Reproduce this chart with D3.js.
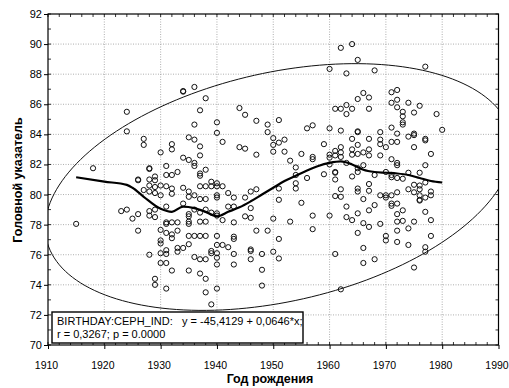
<!DOCTYPE html>
<html><head><meta charset="utf-8">
<script src="https://cdn.jsdelivr.net/npm/d3@7"></script>
<style>
html,body{margin:0;padding:0;background:#fff;}
text{font-family:"Liberation Sans",Arial,sans-serif;fill:#000;}
</style>
</head><body>
<svg id="chart" width="509" height="388"></svg>
<script>
// ---- data ----
const birthYears = [1915,1918,1923,1924,1925,1926,1927,1928,1929,1930,1931,1932,1933,1934,1935,1936,1937,1938,1939,1940,
  1941,1942,1943,1944,1945,1946,1947,1948,1949,1950,1951,1952,1953,1954,1955,1956,1957,1959,1960,
  1961,1962,1963,1964,1965,1966,1967,1968,1969,1970,1971,1972,1973,1974,1975,1976,1977,1978,1979,1980];
const cephIndexByYear = [
  [78.05],
  [81.75],
  [78.9],
  [85.5,84.2,79.0],
  [78.4],
  [81.0,80.95,78.7,77.6],
  [83.7,83.3,80.3],
  [81.75,81.7,81.0,80.6,80.2,78.9,78.6,76.0],
  [81.2,80.95,80.5,80.1,79.0,78.5,74.4,74.0],
  [82.8,80.6,79.95,77.65,76.95,76.75,76.1,75.45],
  [81.9,81.3,80.55,79.2,78.15,78.05,77.45,76.3,76.05,75.45,73.75],
  [83.35,83.0,81.3,80.4,80.05,78.15,77.35,77.1,74.95],
  [81.5,78.15,77.6,76.45,76.2],
  [86.88,86.84,82.45,80.45,79.4,76.45],
  [83.8,82.3,80.2,79.85,78.7,78.55,78.2,78.05,77.25,76.7,74.95],
  [87.15,84.65,83.65,82.1,81.9,79.95,79.0,77.25,75.85],
  [85.6,83.2,82.6,81.4,81.25,80.55,79.7,78.8,78.2,77.25,75.7,74.75],
  [86.4,81.65,80.55,79.7,79.0,78.2,77.25,75.7,74.4,73.5],
  [80.85,80.55,78.8,76.25,76.1,72.7],
  [84.8,84.1,80.75,80.55,79.95,79.8,78.75,78.6,77.25,76.65,76.1,75.8,75.35,73.75],
  [83.5,80.55,78.3,76.65],
  [80.1,79.2,76.5],
  [79.8,79.2,78.15,77.2,77.05,76.05,75.35],
  [85.75,83.15],
  [85.3,83.05,79.8,78.55],
  [80.2,79.1,78.45,76.35,76.25,75.7],
  [84.9,82.65,80.35,77.6],
  [76.05,75.0,73.95],
  [84.65,84.15,77.6],
  [83.75,83.3,82.85,78.4,76.2],
  [84.95,83.45,80.4,79.65,77.05,75.75],
  [83.65,82.85],
  [82.25,78.2],
  [81.8,81.3,80.75,80.4],
  [82.7,79.45],
  [84.4,81.1],
  [84.6,82.5,82.35,78.6,77.7],
  [83.35,81.35],
  [88.35,84.4,82.65,82.45,82.0,78.6],
  [85.7,82.9,82.6,81.5,81.45,81.0,79.9,76.05],
  [89.75,85.7,84.25,83.15,82.8,82.5,80.35,79.85,73.7],
  [88.05,85.95,85.35,82.1,79.2,78.5],
  [90.0,85.7,83.7,83.0,82.65,81.2,78.3],
  [88.95,86.35,84.2,84.15,83.3,82.7,81.75,81.5,80.4,80.2,78.75,77.45],
  [86.75,82.8,81.95,79.7,78.1,76.45,75.45],
  [86.45,85.7,83.7,83.0,82.6,80.7,80.25,78.95,77.85],
  [88.25,81.3,79.3,75.7],
  [84.15,83.65,83.35,82.6,79.95,78.05],
  [83.15,81.5,79.95,79.8,77.25,76.95],
  [86.8,86.1,84.45,83.5,82.35,81.3,81.15,79.95,79.4,79.25],
  [86.95,86.3,85.8,84.05,83.5,82.1,81.95,81.1,80.15,79.4,78.7,78.2,77.6,76.85],
  [85.5,85.2,84.8,84.65,81.05,78.95,78.25],
  [86.1,83.85,81.45,80.35,77.75,76.65],
  [85.45,84.05,83.95,83.15,80.65,80.15,78.2,75.15],
  [85.9,81.45,80.6,80.35,79.95,79.65,79.6],
  [88.5,83.7,83.6,81.95,80.8,79.8,78.85,76.5,76.2],
  [82.7,80.2,79.95,78.3,77.25],
  [85.35],
  [84.3]
];
const loessYears  = [1915,1920,1924,1925,1927,1930,1932,1934,1936,1938,1940,1942,1944,1946,1948,1950,1952,1954,1956,1958,1960,1962,1964,1966,1968,1970,1972,1974,1976,1978,1980];
const loessValues = [81.15,80.86,80.64,80.45,79.85,79.05,78.85,79.2,79.1,78.85,78.55,78.85,79.15,79.55,80.0,80.45,80.9,81.25,81.6,81.9,82.1,82.2,82.0,81.65,81.5,81.45,81.4,81.3,81.1,80.9,80.8];
const xTickValues = [1910,1920,1930,1940,1950,1960,1970,1980,1990];
const yTickValues = [70,72,74,76,78,80,82,84,86,88,90,92];
const ellipseCenter = [1951, 80.5];
const ellipseSpread = [41.5, 8.2];
const correlationR = 0.3267;
const legendLine1a = "BIRTHDAY:CEPH_IND:";
const legendLine1b = "y = -45,4129 + 0,0646*x;";
const legendLine2 = "r = 0,3267; p = 0.0000";
const xTitle = "Год рождения";
const yTitle = "Головной указатель";

// ---- chart ----
const svg = d3.select("#chart");
const x = d3.scaleLinear().domain([1910,1990]).range([48,498.5]);
const y = d3.scaleLinear().domain([70,92]).range([345,14]);
const [x0,x1] = x.range(), [y0,y1] = [y(92), y(70)];

svg.append("rect").attr("width",509).attr("height",388).attr("fill","#fff");
svg.append("defs").append("clipPath").attr("id","plot")
  .append("rect").attr("x",x0).attr("y",y0).attr("width",x1-x0).attr("height",y1-y0);

// grid
const grid = svg.append("g").attr("stroke","#9a9a9a").attr("stroke-width",0.8).attr("stroke-dasharray","1,1.5");
grid.selectAll("line.v").data(xTickValues.slice(1,-1)).join("line")
  .attr("x1",d=>x(d)).attr("x2",d=>x(d)).attr("y1",y0).attr("y2",y1);
grid.selectAll("line.h").data(yTickValues.slice(1,-1)).join("line")
  .attr("y1",d=>y(d)).attr("y2",d=>y(d)).attr("x1",x0).attr("x2",x1);

// ellipse
const ellPts = d3.range(0, 361, 2).map(a=>{
  const t = a*Math.PI/180;
  const ex = ellipseCenter[0] + ellipseSpread[0]*Math.cos(t);
  const ey = ellipseCenter[1] + ellipseSpread[1]*(correlationR*Math.cos(t) + Math.sqrt(1-correlationR*correlationR)*Math.sin(t));
  return [x(ex), y(ey)];
});
svg.append("path").attr("clip-path","url(#plot)")
  .attr("d", d3.line().curve(d3.curveCardinalClosed)(ellPts.slice(0,-1)))
  .attr("fill","none").attr("stroke","#111").attr("stroke-width",1);

// points
const points = [];
birthYears.forEach((yr,i)=>cephIndexByYear[i].forEach(v=>points.push([yr,v])));
svg.append("g").selectAll("circle").data(points).join("circle")
  .attr("cx",d=>x(d[0])).attr("cy",d=>y(d[1])).attr("r",2.6)
  .attr("fill","none").attr("stroke","#111").attr("stroke-width",1);

// loess
svg.append("path")
  .attr("d", d3.line().x((d,i)=>x(loessYears[i])).y(d=>y(d)).curve(d3.curveMonotoneX)(loessValues))
  .attr("fill","none").attr("stroke","#000").attr("stroke-width",2.2);

// frame
svg.append("rect").attr("x",x0).attr("y",y0).attr("width",x1-x0).attr("height",y1-y0)
  .attr("fill","none").attr("stroke","#000").attr("stroke-width",1.2);

// minor ticks inward
const minor = svg.append("g").attr("stroke","#000").attr("stroke-width",0.8);
d3.range(70,92.01,1).forEach(v=>{
  minor.append("line").attr("x1",x0).attr("x2",x0+3).attr("y1",y(v)).attr("y2",y(v));
  minor.append("line").attr("x1",x1).attr("x2",x1-3).attr("y1",y(v)).attr("y2",y(v));
});
d3.range(1910,1990.01,2).forEach(v=>{
  minor.append("line").attr("y1",y0).attr("y2",y0+3).attr("x1",x(v)).attr("x2",x(v));
  minor.append("line").attr("y1",y1).attr("y2",y1-3).attr("x1",x(v)).attr("x2",x(v));
});

// axes
const ax = svg.append("g").attr("transform",`translate(0,${y1})`)
  .call(d3.axisBottom(x).tickValues(xTickValues).tickFormat(d3.format("d")).tickSize(4).tickPadding(13));
const ay = svg.append("g").attr("transform",`translate(${x0},0)`)
  .call(d3.axisLeft(y).tickValues(yTickValues).tickFormat(d3.format("d")).tickSize(4).tickPadding(2));
[ax,ay].forEach(g=>{
  g.select(".domain").remove();
  g.selectAll("text").attr("font-size",11).attr("font-family","Liberation Sans, Arial, sans-serif").attr("fill","#000");
  g.selectAll("line").attr("stroke","#000");
});
ax.selectAll("text").attr("font-size",10.5).attr("dx",-2);

// titles
svg.append("text").attr("x",270).attr("y",383).attr("text-anchor","middle")
  .attr("font-size",12.5).attr("font-weight","bold").text(xTitle);
svg.append("text").attr("transform","translate(22,180) rotate(-90)").attr("text-anchor","middle")
  .attr("font-size",12.5).attr("font-weight","bold").text(yTitle);

// legend
const lg = svg.append("g");
lg.append("rect").attr("x",52).attr("y",312).attr("width",251).attr("height",31)
  .attr("fill","#fff").attr("stroke","#000").attr("stroke-width",1.4);
lg.append("text").attr("x",57).attr("y",324.5).attr("font-size",11).text(legendLine1a);
lg.append("text").attr("x",182).attr("y",324.5).attr("font-size",11).text(legendLine1b);
lg.append("text").attr("x",57).attr("y",338).attr("font-size",11).text(legendLine2);
</script>
</body></html>
